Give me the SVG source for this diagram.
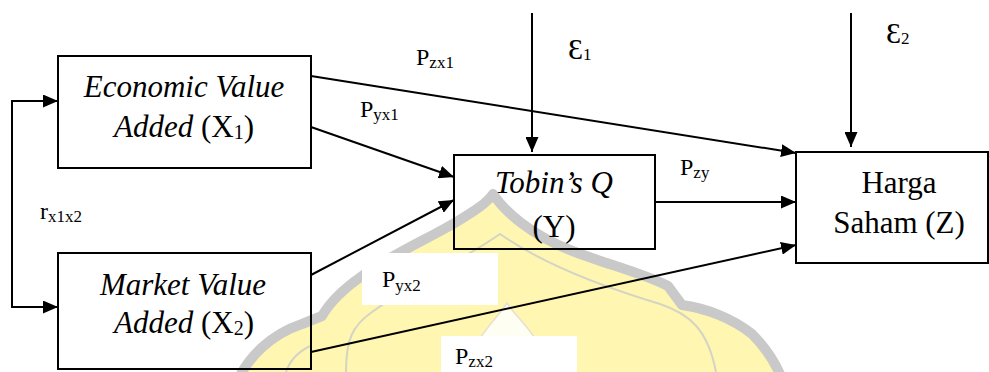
<svg xmlns="http://www.w3.org/2000/svg" width="989" height="372" viewBox="0 0 989 372">
<style>
  .box { fill: none; stroke: #000; stroke-width: 2; }
  .lbl { font-family: "Liberation Serif", "Times New Roman", Times, "DejaVu Serif", serif; fill: #000; }
  .big { font-size: 31px; }
  .it { font-style: italic; }
  .p { font-size: 24px; }
  .sub { font-size: 17px; }
  .bsub { font-size: 20px; }
  .eps { font-size: 30px; }
  .con { fill: none; stroke: #000; stroke-width: 2; }
  .wm-band { fill: #fff6b2; stroke: #c9c9c9; stroke-width: 10; stroke-linejoin: round; }
  .wm-line { fill: none; stroke: #d4d4c4; stroke-width: 2; }
  .wbg { fill: #fff; }
</style>
<defs>
  <marker id="arr" markerUnits="userSpaceOnUse" markerWidth="15" markerHeight="13" refX="15" refY="6.5" orient="auto-start-reverse">
    <path d="M0,0 L15,6.5 L0,13 z" fill="#000"/>
  </marker>
</defs>
<rect width="989" height="372" fill="#fff"/>

<g id="watermark">
  <path class="wm-band" d="M236,384 C248,356 272,334 302,324 L322,316 C330,302 342,290 362,276 C392,254 430,238 458,221 C474,211 486,204 493,194 C505,212 530,234 570,250 C605,264 640,272 668,286 L682,305 C705,308 732,318 752,334 C766,348 776,362 784,384 Z"/>
  <path class="wm-line" d="M346,372 C346,340 352,326 372,312 C410,284 460,262 500,234 C540,262 600,286 660,304 C690,314 708,330 716,372"/>
  <path class="wm-line" d="M286,372 C290,360 298,352 310,346"/>
  <path d="M507,303 C498,318 480,330 462,372 L552,372 C536,330 516,318 507,303 Z" fill="#fffef2" stroke="#e6e0d0" stroke-width="1.5"/>
</g>

<g id="label-bg">
  <rect class="wbg" x="362" y="253" width="136" height="52"/>
  <rect class="wbg" x="441" y="336" width="136" height="40"/>
</g>

<g id="connectors">
  <path class="con" d="M58,101 H12 V307 H58" marker-start="url(#arr)" marker-end="url(#arr)"/>
  <line class="con" x1="311" y1="76" x2="796" y2="153" marker-end="url(#arr)"/>
  <line class="con" x1="311" y1="127" x2="454" y2="177" marker-end="url(#arr)"/>
  <line class="con" x1="311" y1="275" x2="454" y2="200" marker-end="url(#arr)"/>
  <line class="con" x1="311" y1="352" x2="796" y2="245" marker-end="url(#arr)"/>
  <line class="con" x1="655" y1="202" x2="796" y2="202" marker-end="url(#arr)"/>
  <line class="con" x1="532" y1="13" x2="532" y2="152" marker-end="url(#arr)"/>
  <line class="con" x1="851" y1="13" x2="851" y2="147" marker-end="url(#arr)"/>
</g>

<g id="node-eva">
  <rect class="box" x="58" y="56" width="253" height="112"/>
  <text class="lbl big it" x="184" y="97" text-anchor="middle">Economic Value</text>
  <text class="lbl big" x="184" y="137" text-anchor="middle"><tspan class="it">Added</tspan> (X<tspan class="bsub" dy="2">1</tspan><tspan dy="-2">)</tspan></text>
</g>

<g id="node-mva">
  <rect class="box" x="58" y="253" width="253" height="116"/>
  <text class="lbl big it" x="183" y="295" text-anchor="middle">Market Value</text>
  <text class="lbl big" x="184" y="333" text-anchor="middle"><tspan class="it">Added</tspan> (X<tspan class="bsub" dy="2">2</tspan><tspan dy="-2">)</tspan></text>
</g>

<g id="node-tobin">
  <rect class="box" x="454" y="155" width="201" height="94"/>
  <text class="lbl big it" x="554" y="193" text-anchor="middle">Tobin’s Q</text>
  <text class="lbl big" x="554" y="237" text-anchor="middle">(Y)</text>
</g>

<g id="node-harga">
  <rect class="box" x="796" y="152" width="192" height="111"/>
  <text class="lbl big" x="899" y="193" text-anchor="middle">Harga</text>
  <text class="lbl big" x="899" y="233" text-anchor="middle">Saham (Z)</text>
</g>

<g id="labels">
  <text class="lbl p" x="416" y="65">P<tspan class="sub" dy="3">zx1</tspan></text>
  <text class="lbl p" x="360" y="117">P<tspan class="sub" dy="3">yx1</tspan></text>
  <text class="lbl p" x="680" y="175">P<tspan class="sub" dy="3">zy</tspan></text>
  <text class="lbl p" x="382" y="287">P<tspan class="sub" dy="4">yx2</tspan></text>
  <text class="lbl p" x="455" y="364">P<tspan class="sub" dy="3">zx2</tspan></text>
  <text class="lbl p" x="40" y="219">r<tspan class="sub" dy="3">x1x2</tspan></text>
  <text class="lbl eps" x="568" y="59">Ɛ<tspan class="sub" dy="1">1</tspan></text>
  <text class="lbl eps" x="886" y="43">Ɛ<tspan class="sub" dy="1">2</tspan></text>
</g>
</svg>
